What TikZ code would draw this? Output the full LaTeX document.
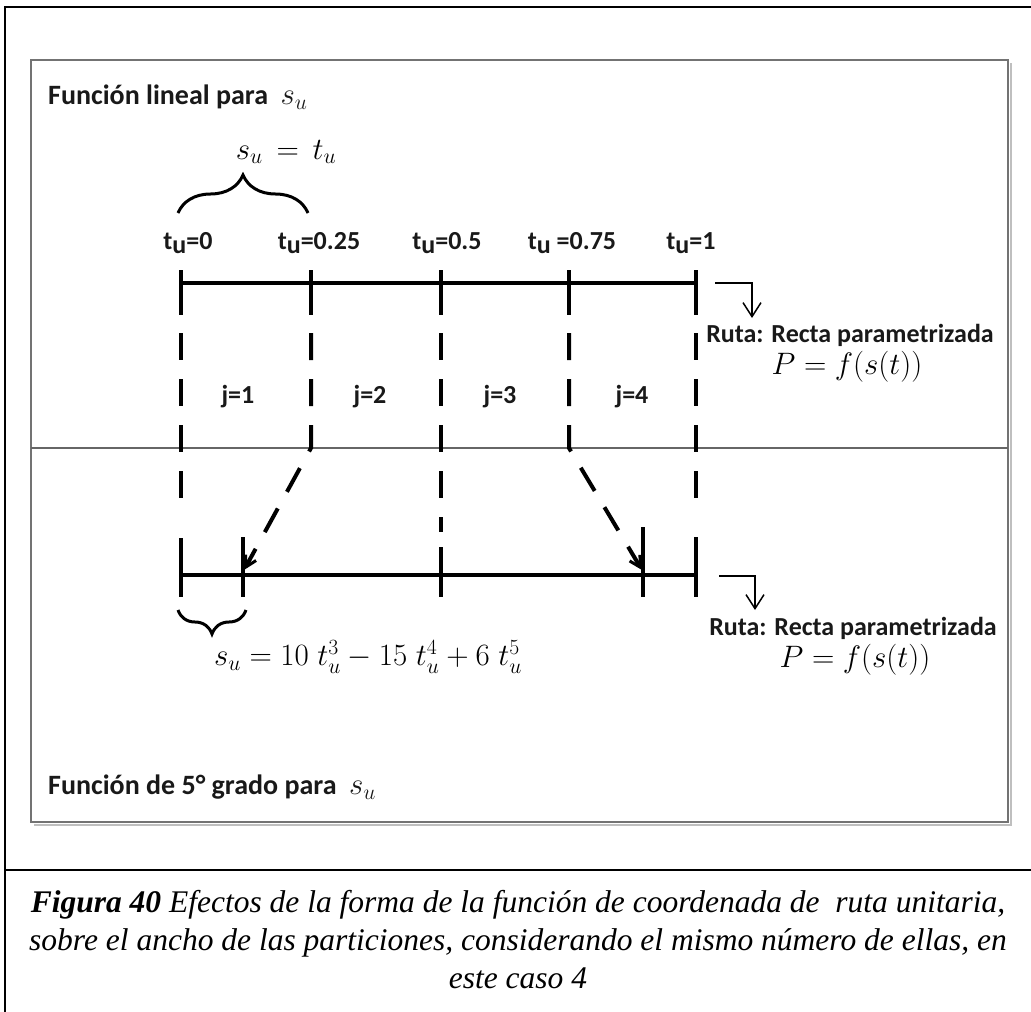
\RequirePackage{fix-cm}
\documentclass[tikz,border=0pt]{standalone}
\usepackage{fontspec}
\setmainfont{Liberation Serif}
\newfontfamily\calfont{Carlito}
\usetikzlibrary{arrows.meta,decorations.pathreplacing}
\newcommand\tulab{t\raisebox{-0.35ex}{u}}
\begin{document}
\begin{tikzpicture}[x=1pt,y=-1pt,
  lbl/.style={font=\calfont\bfseries\fontsize{26}{30}\selectfont, inner sep=0pt, text=black!90},
  headlbl/.style={font=\calfont\bfseries\fontsize{28}{32}\selectfont, inner sep=0pt, text=black!90, anchor=west},
  mth/.style={font=\fontsize{31}{36}\selectfont, inner sep=0pt},
  axisline/.style={line width=4pt},
  tickline/.style={line width=4pt},
  dshline/.style={line width=4pt, dash pattern=on 27pt off 19pt},
  dsharrow/.style={line width=4pt, dash pattern=on 27pt off 19pt, -{Straight Barb[length=11pt,width=12pt,line width=3pt]}},
  hookarrow/.style={line width=1.5pt, -{Straight Barb[length=14pt,width=18pt]}},
  bracedeco/.style={decorate, line width=3pt},
  captext/.style={font=\itshape\fontsize{31.5}{38}\selectfont, align=center, inner sep=0pt}
]
\useasboundingbox (0,0) rectangle (1031,1012);
% outer frame
\draw[line width=2pt] (1031,7) -- (5,7) -- (5,1012);
\draw[line width=2pt] (5,870) -- (1031,870);
% inner box
\draw[black!25, line width=2pt] (34,825) -- (1011,825) -- (1011,63);
\draw[black!55, line width=2pt] (31,60) rectangle (1008,822);
\draw[black!60, line width=1.5pt] (31,448) -- (1008,448);

% headings
\node[headlbl] (h1) at (48,97) {Función lineal para\ \ {\fontsize{31}{36}\selectfont$s_u$}};
\node[headlbl] (h2) at (48,787) {Función de 5° grado para\ \ {\fontsize{31}{36}\selectfont$s_u$}};

% upper axis coordinates
\coordinate (a0) at (181,283);
\coordinate (a1) at (311,283);
\coordinate (a2) at (441,283);
\coordinate (a3) at (569,283);
\coordinate (a4) at (696,283);
\draw[axisline] (a0) -- (a4);
\foreach \x in {181,311,441,569,696} \draw[tickline] (\x,270) -- (\x,315);

% upper labels
\node[lbl] (l0) at (188,243) {\tulab=0};
\node[lbl] (l1) at (319,243) {\tulab=0.25};
\node[lbl] (l2) at (447,243) {\tulab=0.5};
\node[lbl] (l3) at (572,243) {\tulab\ =0.75};
\node[lbl] (l4) at (691,243) {\tulab=1};

% upper brace
\coordinate (b0) at (178,213);
\coordinate (b1) at (308,213);
\draw[bracedeco, decoration={brace, amplitude=38pt}] (b0) -- (b1);
\node[mth] (su1) at (286,152) {$s_u\, =\, t_u$};

% lower axis
\coordinate (c0) at (181,575);
\coordinate (c1) at (243,575);
\coordinate (c2) at (441,575);
\coordinate (c3) at (643,575);
\coordinate (c4) at (696,575);
\draw[axisline] (c0) -- (c4);
\draw[tickline] (181,538) -- (181,597);
\draw[tickline] (243,537) -- (243,597);
\draw[tickline] (441,547) -- (441,597);
\draw[tickline] (643,527) -- (643,597);
\draw[tickline] (696,537) -- (696,597);

% dashed guides
\coordinate (d0s) at (181,333); \coordinate (d0e) at (181,503);
\coordinate (d2s) at (441,333); \coordinate (d2e) at (441,532);
\coordinate (d4s) at (696,333); \coordinate (d4e) at (696,503);
\coordinate (d1s) at (311,333); \coordinate (d1m) at (311,448); \coordinate (d1e) at (244,570);
\coordinate (d3s) at (569,333); \coordinate (d3m) at (569,448); \coordinate (d3e) at (642,570);
\draw[dshline] (d0s) -- (d0e);
\draw[dshline] (d2s) -- (d2e);
\draw[dshline] (d4s) -- (d4e);
\draw[dsharrow] (d1s) -- (d1m) -- (d1e);
\draw[dsharrow] (d3s) -- (d3m) -- (d3e);

% partition labels
\node[lbl] (j1) at (238,397) {j=1};
\node[lbl] (j2) at (370,397) {j=2};
\node[lbl] (j3) at (500,397) {j=3};
\node[lbl] (j4) at (632,397) {j=4};

% hook arrows
\coordinate (k1a) at (715,283); \coordinate (k1b) at (752,283); \coordinate (k1c) at (752,318);
\draw[hookarrow] (k1a) -- (k1b) -- (k1c);
\coordinate (k2a) at (719,576); \coordinate (k2b) at (755,576); \coordinate (k2c) at (755,610);
\draw[hookarrow] (k2a) -- (k2b) -- (k2c);

% route labels
\node[lbl] (r1) at (850,335) {Ruta: Recta parametrizada};
\node[mth] (p1) at (847,367) {$P = f(s(t))$};
\node[lbl] (r2) at (853,628) {Ruta: Recta parametrizada};
\node[mth] (p2) at (855,660) {$P = f(s(t))$};

% lower brace
\coordinate (e0) at (178,610);
\coordinate (e1) at (246,610);
\draw[bracedeco, decoration={brace, mirror, amplitude=24pt}] (e0) -- (e1);
\node[mth] (su2) at (368,657) {$s_u = 10\; t_u^3 - 15\; t_u^4 + 6\; t_u^5$};

% caption
\node[captext] (caption) at (518,940) {\textbf{Figura 40} Efectos de la forma de la función de coordenada de\ \ ruta unitaria,\\ sobre el ancho de las particiones, considerando el mismo número de ellas, en\\ este caso 4};
\end{tikzpicture}
\end{document}
